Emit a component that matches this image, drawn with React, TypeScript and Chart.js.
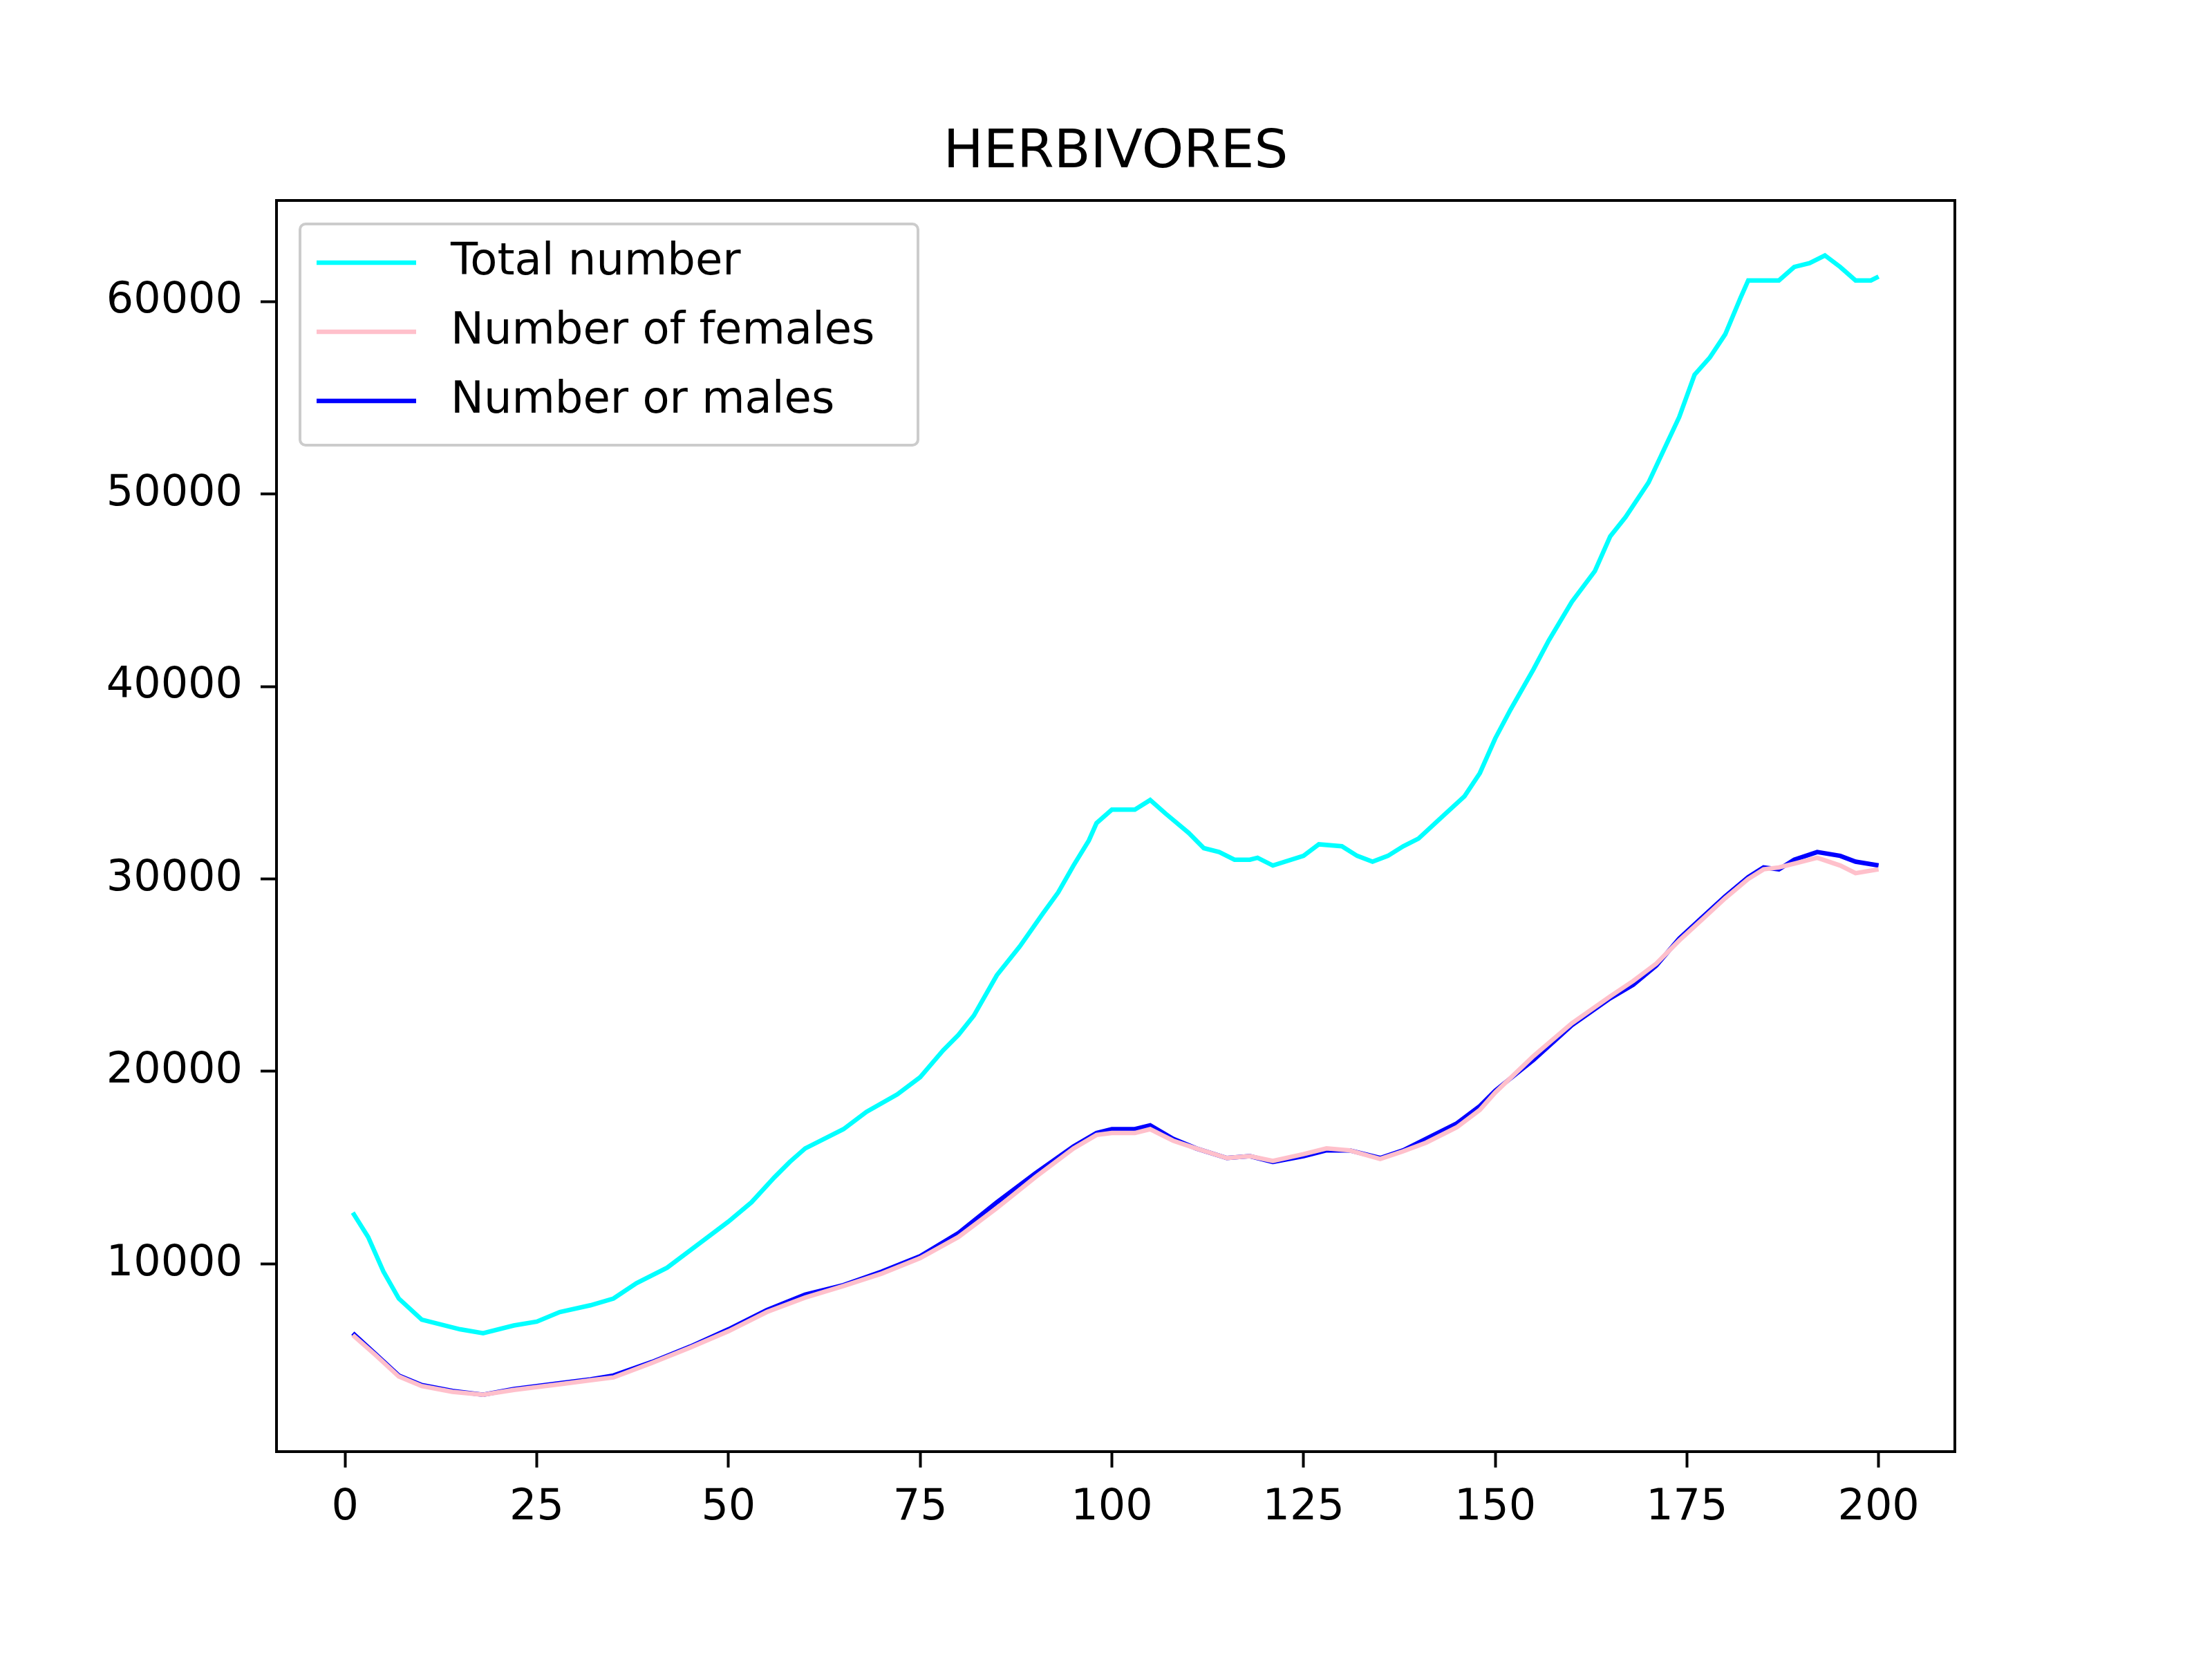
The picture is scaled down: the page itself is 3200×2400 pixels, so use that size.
import { useEffect, useRef } from "react"
import { Chart, registerables } from "chart.js"

Chart.register(...registerables)

// readings (time step, count)
const totalX = [1, 3, 5, 7, 10, 15, 18, 22, 25, 28, 32, 35, 38, 42, 45, 48, 50, 53, 56, 58, 60, 65, 68, 72, 75, 78, 80, 82, 85, 88, 91, 93, 95, 97, 98, 100, 103, 105, 107, 110, 112, 114, 116, 118, 119, 121, 125, 127, 130, 132, 134, 136, 138, 140, 143, 146, 148, 150, 152, 155, 157, 160, 163, 165, 167, 170, 172, 174, 176, 178, 180, 182, 183, 185, 187, 189, 191, 193, 195, 197, 199, 200]
const totalY = [12660, 11400, 9600, 8200, 7100, 6600, 6400, 6800, 7000, 7500, 7850, 8200, 9000, 9800, 10700, 11600, 12200, 13200, 14500, 15300, 16000, 17000, 17900, 18800, 19700, 21100, 21900, 22900, 25000, 26500, 28200, 29300, 30700, 32000, 32900, 33600, 33600, 34100, 33400, 32400, 31600, 31400, 31000, 31000, 31100, 30700, 31200, 31800, 31700, 31200, 30900, 31200, 31700, 32100, 33200, 34300, 35500, 37300, 38800, 40900, 42400, 44400, 46000, 47800, 48800, 50600, 52300, 54000, 56200, 57100, 58300, 60200, 61100, 61100, 61100, 61800, 62000, 62400, 61800, 61100, 61100, 61300]

const sexX = [1, 4, 7, 10, 14, 18, 22, 28, 32, 35, 40, 45, 50, 55, 60, 65, 70, 75, 80, 85, 90, 95, 98, 100, 103, 105, 108, 111, 115, 118, 121, 125, 128, 131, 135, 138, 141, 145, 148, 150, 155, 160, 165, 168, 171, 174, 177, 180, 183, 185, 187, 189, 192, 195, 197, 200]
const femalesY = [6300, 5250, 4150, 3650, 3350, 3200, 3450, 3750, 3950, 4100, 4850, 5650, 6500, 7500, 8250, 8850, 9500, 10300, 11400, 12900, 14500, 16000, 16700, 16800, 16800, 17000, 16400, 16000, 15500, 15600, 15350, 15700, 16000, 15900, 15450, 15850, 16300, 17100, 18000, 18900, 20800, 22500, 23900, 24700, 25600, 26800, 27900, 29000, 30000, 30500, 30600, 30800, 31100, 30700, 30300, 30500]
const malesY = [6400, 5300, 4200, 3700, 3400, 3200, 3500, 3800, 4000, 4200, 4900, 5700, 6600, 7600, 8400, 8900, 9600, 10400, 11600, 13200, 14700, 16100, 16800, 17000, 17000, 17200, 16500, 16000, 15500, 15600, 15300, 15600, 15900, 15900, 15500, 15900, 16500, 17300, 18200, 19000, 20600, 22400, 23800, 24500, 25500, 26900, 28000, 29100, 30100, 30600, 30500, 31000, 31400, 31200, 30900, 30700]

const xTicks = [0, 25, 50, 75, 100, 125, 150, 175, 200]
const yTicks = [10000, 20000, 30000, 40000, 50000, 60000]

const seriesNames = ["Total number", "Number of females", "Number or males"]
const seriesColors = ["#00ffff", "#ffc0cb", "#0000ff"]

const FONT = "DejaVu Sans"

const pts = (xs: number[], ys: number[]) => xs.map((x, i) => ({ x, y: ys[i] }))

export default function App() {
  const ref = useRef<HTMLCanvasElement>(null)

  useEffect(() => {
    if (!ref.current) return
    const chart = new Chart(ref.current, {
      type: "line",
      data: {
        datasets: [
          { label: seriesNames[0], data: pts(totalX, totalY), borderColor: seriesColors[0] },
          { label: seriesNames[1], data: pts(sexX, femalesY), borderColor: seriesColors[1] },
          { label: seriesNames[2], data: pts(sexX, malesY), borderColor: seriesColors[2] },
        ],
      },
      options: {
        responsive: false,
        animation: false,
        layout: { padding: { top: 282, right: 380, left: 0, bottom: 0 } },
        elements: { point: { radius: 0 }, line: { borderWidth: 6.5, tension: 0 } },
        plugins: { legend: { display: false }, title: { display: false }, tooltip: { enabled: false } },
        scales: {
          x: {
            type: "linear",
            min: -8.95,
            max: 209.95,
            afterBuildTicks: (s) => { s.ticks = xTicks.map((v) => ({ value: v })) },
            afterFit: (s) => { s.height = 308 },
            grid: { drawOnChartArea: false, tickLength: 23, tickWidth: 4, color: "#000" },
            border: { display: false },
            ticks: { color: "#000", font: { family: FONT, size: 62 }, padding: 22, maxRotation: 0 },
          },
          y: {
            min: 245,
            max: 65255,
            afterBuildTicks: (s) => { s.ticks = yTicks.map((v) => ({ value: v })) },
            afterFit: (s) => { s.width = 392 },
            grid: { drawOnChartArea: false, tickLength: 23, tickWidth: 4, color: "#000" },
            border: { display: false },
            ticks: { color: "#000", font: { family: FONT, size: 62 }, padding: 26, callback: (v) => String(v) },
          },
        },
      },
      plugins: [{
        id: "frame",
        afterDraw: (c) => {
          const ctx = c.ctx
          const a = c.chartArea
          ctx.save()
          ctx.strokeStyle = "#000"
          ctx.lineWidth = 4
          ctx.strokeRect(a.left, a.top, a.right - a.left, a.bottom - a.top)
          ctx.fillStyle = "#000"
          ctx.font = `77px "${FONT}"`
          ctx.textAlign = "center"
          ctx.textBaseline = "middle"
          ctx.fillText("HERBIVORES", (a.left + a.right) / 2, 214)
          // legend
          const bx = a.left + 34, by = a.top + 34, bw = 894, bh = 320
          ctx.fillStyle = "rgba(255,255,255,0.8)"
          ctx.strokeStyle = "#cccccc"
          ctx.lineWidth = 4
          ctx.beginPath()
          ctx.roundRect(bx, by, bw, bh, 8)
          ctx.fill()
          ctx.stroke()
          ctx.textAlign = "left"
          ctx.font = `64px "${FONT}"`
          seriesNames.forEach((n, i) => {
            const y = by + 56 + i * 100
            ctx.strokeStyle = seriesColors[i]
            ctx.lineWidth = 6.5
            ctx.beginPath()
            ctx.moveTo(bx + 24, y)
            ctx.lineTo(bx + 168, y)
            ctx.stroke()
            ctx.fillStyle = "#000"
            ctx.fillText(n, bx + 218, y)
          })
          ctx.restore()
        },
      }],
    })
    return () => chart.destroy()
  }, [])

  return <canvas ref={ref} width={3200} height={2400} style={{ display: "block", width: 3200, height: 2400 }} />
}
